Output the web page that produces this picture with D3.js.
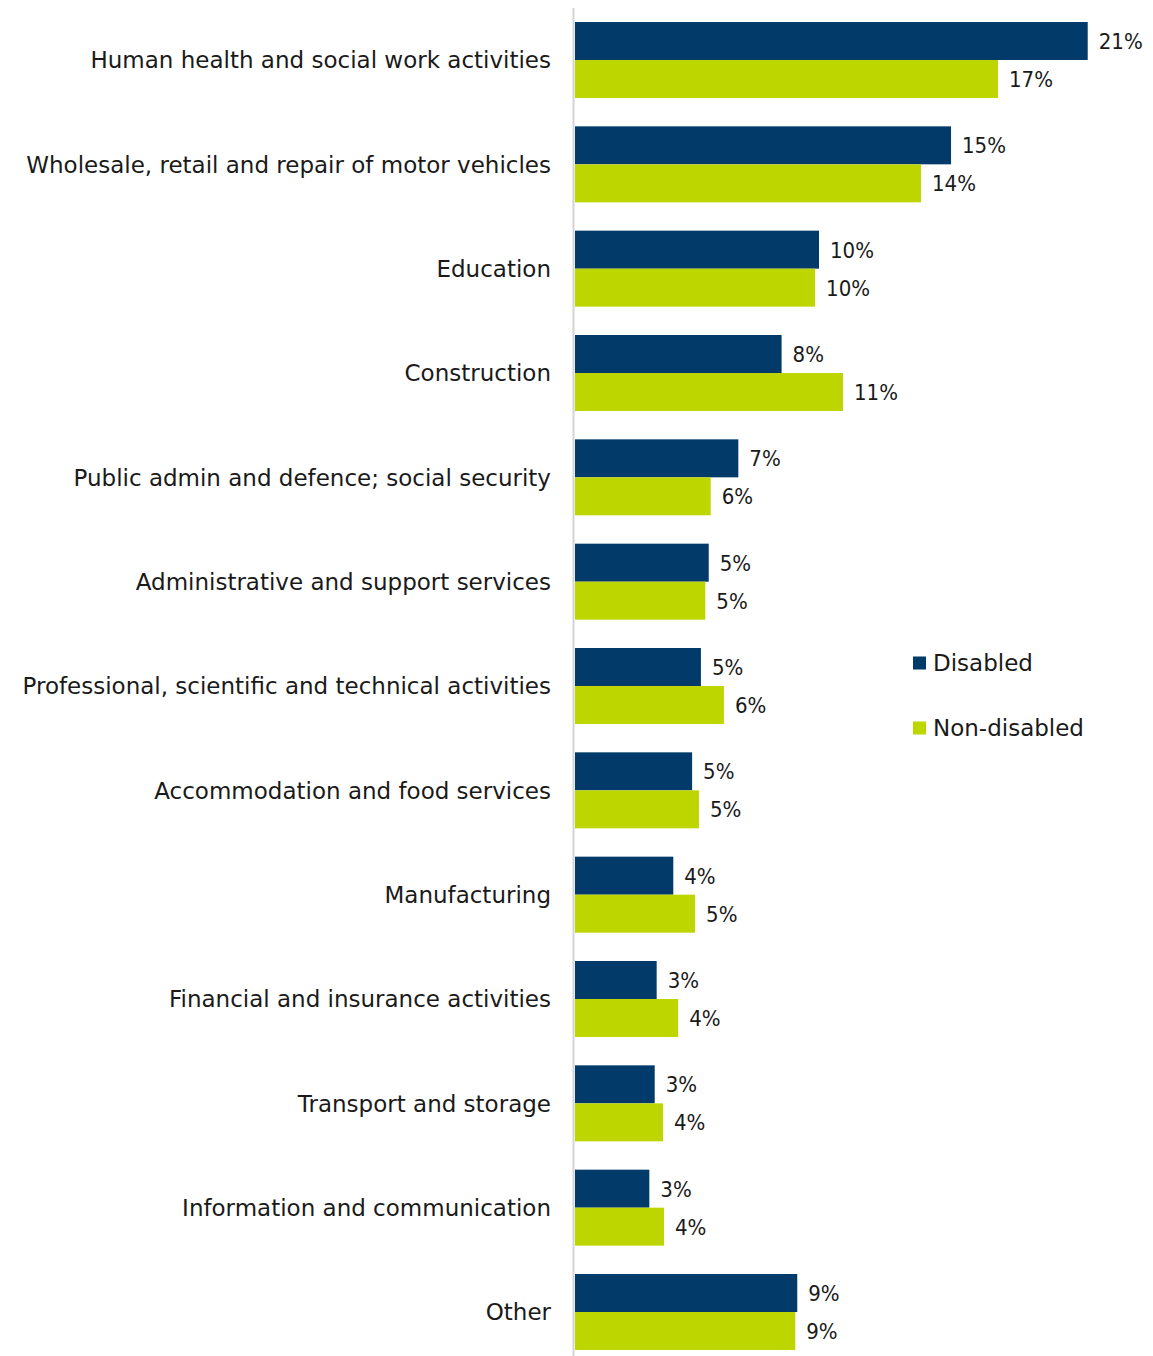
<!DOCTYPE html>
<html>
<head>
<meta charset="utf-8">
<script src="https://cdn.jsdelivr.net/npm/d3@7"></script>
<style>
  html, body { margin: 0; padding: 0; background: #ffffff; }
  svg { display: block; }
  text { fill: #1a1a1a; }
  .cat, .legend-label { font-family: "DejaVu Sans", sans-serif; font-size: 23px; }
  .value { font-family: "DejaVu Sans Condensed", "DejaVu Sans", sans-serif; font-size: 22px; }
</style>
</head>
<body>
<svg id="chart" width="1153" height="1356"></svg>
<script>
// Industry of employment, share of workers (%)
const categories = [
  "Human health and social work activities",
  "Wholesale, retail and repair of motor vehicles",
  "Education",
  "Construction",
  "Public admin and defence; social security",
  "Administrative and support services",
  "Professional, scientific and technical activities",
  "Accommodation and food services",
  "Manufacturing",
  "Financial and insurance activities",
  "Transport and storage",
  "Information and communication",
  "Other"
];
const seriesNames = ["Disabled", "Non-disabled"];
const disabled    = [20.97, 15.38, 9.98, 8.45, 6.68, 5.47, 5.15, 4.79, 4.02, 3.34, 3.26, 3.04, 9.09];
const nonDisabled = [17.30, 14.15, 9.82, 10.96, 5.55, 5.33, 6.09, 5.07, 4.91, 4.22, 3.60, 3.64, 9.01];
const colors = ["#023b69", "#bed600"];

const rows = categories.map((c, i) => ({ category: c, values: [disabled[i], nonDisabled[i]] }));

const svg = d3.select("#chart");

const x = d3.scaleLinear().domain([0, 22]).range([575, 575 + 22 * 24.45]);
const y = d3.scaleBand().domain(categories).range([22, 1350]).paddingInner(0.2716).paddingOuter(0);
const ySub = d3.scaleBand().domain(seriesNames).range([0, y.bandwidth()]);
const fmt = v => d3.format(".0f")(v) + "%";

// category axis line
svg.append("line")
  .attr("x1", 573.5).attr("x2", 573.5)
  .attr("y1", 8).attr("y2", 1356)
  .attr("stroke", "#d4d4d4").attr("stroke-width", 2);

const groups = svg.selectAll("g.row")
  .data(rows)
  .join("g")
  .attr("class", "row")
  .attr("transform", d => `translate(0,${y(d.category)})`);

groups.append("text")
  .attr("class", "cat")
  .attr("x", 551)
  .attr("y", y.bandwidth() / 2)
  .attr("dy", "0.36em")
  .attr("text-anchor", "end")
  .text(d => d.category);

const bars = groups.selectAll("g.bar")
  .data(d => d.values.map((v, i) => ({ series: seriesNames[i], value: v, color: colors[i] })))
  .join("g")
  .attr("class", "bar");

bars.append("rect")
  .attr("x", x(0))
  .attr("y", d => ySub(d.series))
  .attr("width", d => x(d.value) - x(0))
  .attr("height", ySub.bandwidth())
  .attr("fill", d => d.color);

bars.append("text")
  .attr("class", "value")
  .attr("x", d => x(d.value) + 11)
  .attr("y", d => ySub(d.series) + ySub.bandwidth() / 2)
  .attr("dy", "0.36em")
  .text(d => fmt(d.value));

// legend
const legend = svg.append("g").attr("transform", "translate(913,0)");
const legendY = [663, 728];
seriesNames.forEach((name, i) => {
  legend.append("rect")
    .attr("x", 0).attr("y", legendY[i] - 6.5)
    .attr("width", 13).attr("height", 13)
    .attr("fill", colors[i]);
  legend.append("text")
    .attr("class", "legend-label")
    .attr("x", 20).attr("y", legendY[i])
    .attr("dy", "0.36em")
    .text(name);
});
</script>
</body>
</html>
